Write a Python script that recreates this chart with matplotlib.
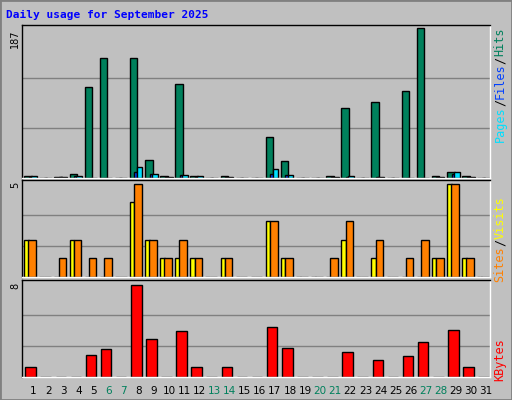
import matplotlib
matplotlib.use("Agg")
import matplotlib.pyplot as plt
import numpy as np

days = list(range(1, 32))
weekends = [6, 7, 13, 14, 20, 21, 27, 28]

hits = [2, 0, 1, 5, 114, 150, 0, 150, 23, 3, 117, 3, 0, 2, 0, 0, 51, 21, 0, 0, 2, 87, 0, 95, 0, 109, 187, 2, 7, 2, 0]
files = [1, 0, 1, 2, 0, 0, 0, 8, 5, 1, 4, 1, 0, 1, 0, 0, 5, 4, 0, 0, 1, 1, 0, 1, 0, 0, 0, 1, 5, 1, 0]
pages = [3, 0, 1, 3, 0, 0, 0, 14, 5, 1, 4, 3, 0, 1, 0, 0, 11, 4, 0, 0, 1, 3, 0, 1, 0, 0, 0, 1, 7, 1, 0]
visits = [2, 0, 0, 2, 0, 0, 0, 4, 2, 1, 1, 1, 0, 1, 0, 0, 3, 1, 0, 0, 0, 2, 0, 1, 0, 0, 0, 1, 5, 1, 0]
sites = [2, 0, 1, 2, 1, 1, 0, 5, 2, 1, 2, 1, 0, 1, 0, 0, 3, 1, 0, 0, 1, 3, 0, 2, 0, 1, 2, 1, 5, 1, 0]
kbytes = [0.9, 0, 0, 0, 1.9, 2.4, 0, 8, 3.3, 0, 4.0, 0.9, 0, 0.9, 0, 0, 4.3, 2.5, 0, 0, 0, 2.15, 0, 1.45, 0, 1.8, 3.0, 0, 4.1, 0.9, 0]

W, H = 512, 400
fig = plt.figure(figsize=(W / 100, H / 100), dpi=100, facecolor="#C0C0C0")
# outer bevel border
fig.add_artist(plt.Rectangle((0, 0), 1, 1, transform=fig.transFigure, fill=False, ec="#808080", lw=2))

def panel(top, bottom):
    ax = fig.add_axes([22 / W, 1 - bottom / H, 468 / W, (bottom - top) / H])
    ax.set_facecolor("#C0C0C0")
    ax.set_xlim(0.5, 31.5)
    ax.set_xticks([])
    ax.set_yticks([])
    for s in ax.spines.values():
        s.set_color("black")
        s.set_linewidth(1)
    ax.spines["bottom"].set_color("white")
    ax.spines["right"].set_color("white")
    return ax

x = np.array(days, dtype=float)
kw = dict(edgecolor="black", linewidth=1, align="edge")

ax1 = panel(25, 178)
ymax1 = max(hits)
ax1.set_ylim(0, ymax1 * 1.02)
for g in (1 / 3, 2 / 3):
    ax1.axhline(ymax1 * g, color="#808080", lw=1, zorder=0)
ax1.bar(x - 0.35, hits, 0.5, color="#00805C", **kw)
ax1.bar(x - 0.05, files, 0.2, color="#0040FF", **kw)
ax1.bar(x + 0.1, pages, 0.38, color="#00E0FF", **kw)

ax2 = panel(180, 277)
ax2.set_ylim(0, 5.2)
for g in (5 / 3, 10 / 3):
    ax2.axhline(g, color="#808080", lw=1, zorder=0)
ax2.bar(x - 0.35, visits, 0.3, color="#FFFF00", **kw)
ax2.bar(x - 0.07, sites, 0.5, color="#FF8000", **kw)

ax3 = panel(280, 377)
ax3.set_ylim(0, 8.4)
for g in (8 / 3, 16 / 3):
    ax3.axhline(g, color="#808080", lw=1, zorder=0)
ax3.bar(x - 0.28, kbytes, 0.7, color="#FF0000", **kw)

for d in days:
    ax3.text(d + 0.25, -0.09, str(d), transform=ax3.get_xaxis_transform(), ha="center", va="top",
             fontsize=7.5, color="#00805C" if d in weekends else "black")

fig.text(6 / W, 1 - 15 / H, "Daily usage for September 2025", color="#0000FF", fontsize=8,
         family="DejaVu Sans Mono", fontweight="bold", va="center")
for txt, y in (("187", 30), ("5", 182), ("8", 283)):
    fig.text(15 / W, 1 - y / H, txt, rotation=90, ha="center", va="top", fontsize=7)

def side(items, ytop):
    yy = 1 - ytop / H
    for t, c in items:
        r = fig.text(500 / W, yy, t, rotation=90, ha="center", va="top", fontsize=8.5,
                     family="DejaVu Sans Mono", color=c)
        fig.canvas.draw()
        yy -= r.get_window_extent().height / H

side([("Hits", "#00805C"), ("/", "black"), ("Files", "#0040FF"), ("/", "black"), ("Pages", "#00E0FF")], 28)
side([("Visits", "#FFFF00"), ("/", "black"), ("Sites", "#FF8000")], 196)
side([("KBytes", "#FF0000")], 338)

fig.savefig("out.png", dpi=100, facecolor=fig.get_facecolor())
